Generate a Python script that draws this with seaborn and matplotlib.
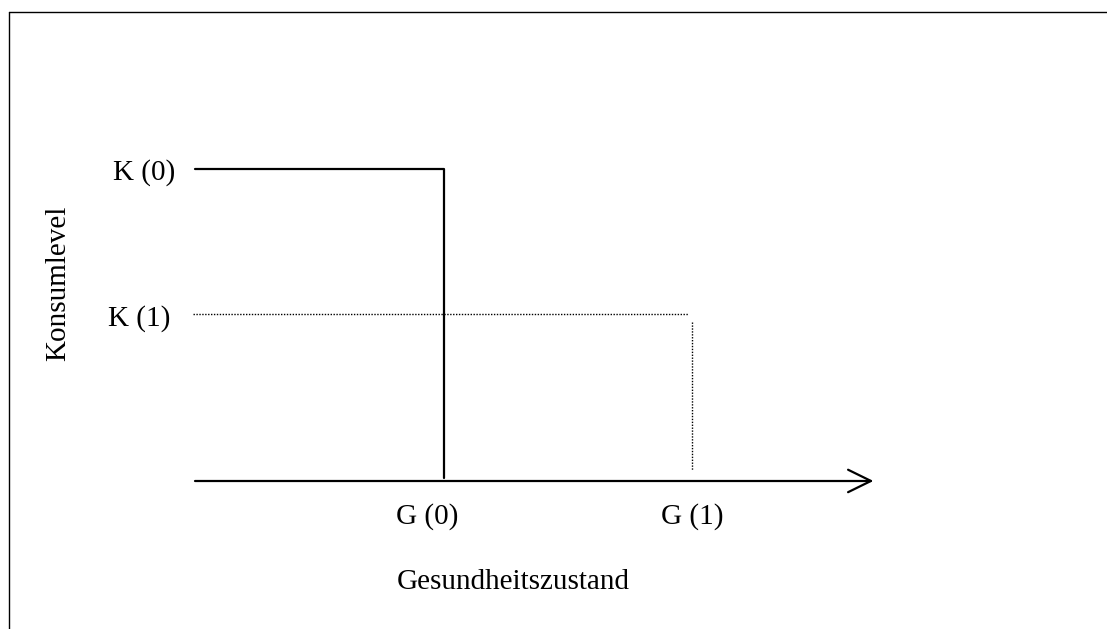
import numpy as np
import pandas as pd
import seaborn as sns
import matplotlib.pyplot as plt
from matplotlib.lines import Line2D

# Diagram data (G = Gesundheitszustand, K = Konsumlevel)
g_levels = [1.0, 2.0]          # G (0), G (1)
k_levels = [2.0, 1.07]         # K (0), K (1)
g_labels = ['G (0)', 'G (1)']
k_labels = ['K (0)', 'K (1)']
x_axis_end = 2.72

sns.set_theme(style='white')
plt.rcParams['font.family'] = ['Liberation Serif', 'DejaVu Serif']

fig = plt.figure(figsize=(11.07, 6.29), dpi=100)
ax = fig.add_axes([0, 0, 1, 1])
ax.set_xlim(-0.785, 3.670)
ax.set_ylim(-0.949, 3.083)
ax.axis('off')

# solid path K(0) -> G(0)
solid = pd.DataFrame({'g': [0, g_levels[0], g_levels[0]],
                      'k': [k_levels[0], k_levels[0], 0.02]})
sns.lineplot(data=solid, x='g', y='k', sort=False, estimator=None, errorbar=None,
             color='black', lw=1.6, ax=ax)

# dotted path K(1) -> G(1)
dot = dict(color='black', lw=1.0, ls=(0, (1.0, 1.1)))
ax.plot([-0.01, g_levels[1] - 0.016], [k_levels[1], k_levels[1]], **dot)
ax.plot([g_levels[1], g_levels[1]], [k_levels[1] - 0.05, 0.07], **dot)

# x axis with open arrow head
ax.plot([0, x_axis_end], [0, 0], color='black', lw=1.6)
ax.plot([x_axis_end - 0.092, x_axis_end, x_axis_end - 0.092],
        [0.072, 0, -0.072], color='black', lw=1.6)

fs = 21
for g, lab, dx in zip(g_levels, g_labels, [-16, 0]):
    ax.annotate(lab, xy=(g, 0), xytext=(dx, -36), textcoords='offset pixels',
                ha='center', va='center', fontsize=fs, color='black')
for k, lab, dx in zip(k_levels, k_labels, [-20, -25]):
    ax.annotate(lab, xy=(0, k), xytext=(dx, -4), textcoords='offset pixels',
                ha='right', va='center', fontsize=fs, color='black')

fig.text(513 / 1107, 1 - 582 / 629, 'Gesundheitszustand', ha='center', va='center',
         fontsize=fs, color='black')
fig.text(58 / 1107, 1 - 283 / 629, 'Konsumlevel', ha='center', va='center',
         rotation=90, fontsize=fs, color='black')

# outer frame (top and left edges visible)
fig.add_artist(Line2D([9 / 1107, 1], [1 - 12 / 629, 1 - 12 / 629],
                      transform=fig.transFigure, color='black', lw=1))
fig.add_artist(Line2D([9 / 1107, 9 / 1107], [0, 1 - 12 / 629],
                      transform=fig.transFigure, color='black', lw=1))

fig.savefig('out.png', dpi=100)
